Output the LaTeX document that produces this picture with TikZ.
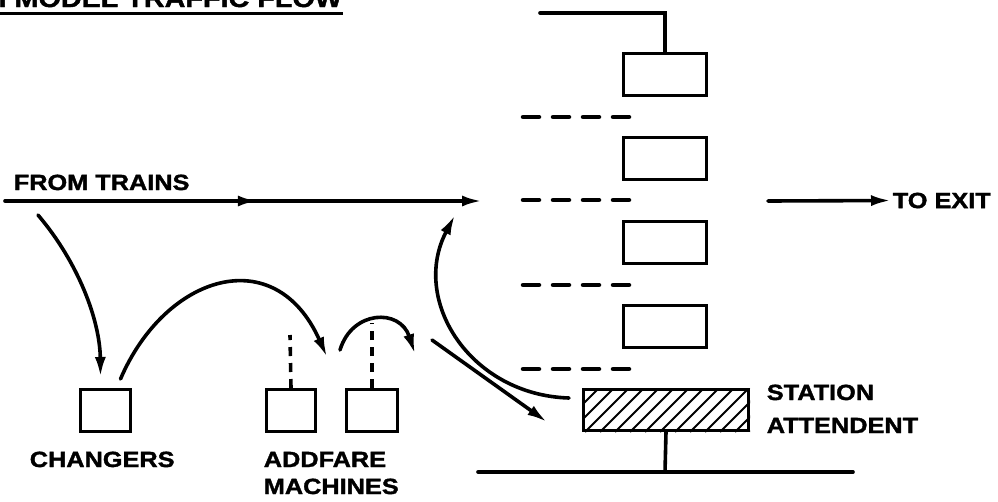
\documentclass[tikz,border=0pt]{standalone}
\usepackage{fontspec}
\newfontfamily\lblfont{Liberation Sans}[FakeStretch=1.15,BoldFeatures={FakeBold=1.6}]
\usetikzlibrary{arrows.meta,decorations.markings,calc}
\begin{document}
\begin{tikzpicture}[x=1pt,y=-1pt,line width=3.6pt,
  tip/.tip={Latex[length=20pt,width=11pt]},
  booth/.style={draw,line width=3pt,minimum width=83pt,minimum height=42pt,inner sep=0pt},
  machine/.style={draw,line width=3pt,minimum height=42pt,inner sep=0pt},
  dashrow/.style={line width=4.5pt,dash pattern=on 16pt off 14pt,line cap=round},
  dashv/.style={line width=3.6pt,dash pattern=on 9pt off 7pt},
  arr/.style={-tip,line width=3.6pt},
  lbl/.style={font=\lblfont\bfseries\fontsize{22}{26}\selectfont,inner sep=0pt,anchor=base west},
  ttl/.style={font=\lblfont\bfseries\fontsize{25}{28}\selectfont,inner sep=0pt,anchor=base west}]
\useasboundingbox (0,0) rectangle (998,501);

% title (cropped at top, as in the reference)
\node[ttl] (title) at (-16,7) {H MODEL TRAFFIC FLOW};
\draw (0,13.5) -- (343,13.5);

% booths
\node[booth] (b1) at (665,74.5) {};
\node[booth] (b2) at (665,158) {};
\node[booth] (b3) at (665,242) {};
\node[booth] (b4) at (665,326.5) {};
\coordinate (topl) at (540,13);
\draw[line cap=round] (topl) -| (b1.north);

% dashed barriers
\foreach \y in {117,200,285,369}
  \draw[dashrow] (523,\y) -- (630,\y);

% attendant booth (hatched)
\node[draw,line width=3pt,minimum width=165pt,minimum height=41pt,inner sep=0pt] (att) at (666,410) {};
\begin{scope}
  \clip (att.south west) rectangle (att.north east);
  \foreach \x in {540,555,...,760}
    \draw[line width=2pt] (\x,432) -- ++(46,-46);
\end{scope}
\node[draw,line width=3pt,minimum width=165pt,minimum height=41pt,inner sep=0pt] at (666,410) {};
\coordinate (floor) at (665,472);
\draw (att.south) -- (floor);
\coordinate (fl) at (478,472);
\coordinate (fr) at (853,472);
\draw[line cap=round] (fl) -- (fr);
\node[lbl] (st) at (765,400) {STATION};
\node[lbl] (ad) at (765,433) {ATTENDENT};

% main flow
\coordinate (ft) at (5,201);
\coordinate (fe) at (482,201);
\draw[arr,line cap=round,decoration={markings,mark=at position 0.53 with {\arrow{tip}}},postaction={decorate}] (ft) -- (fe);
\node[lbl] (from) at (12,190) {FROM TRAINS};
\node[lbl,anchor=west] (exit) at (891,200.5) {TO EXIT};
\coordinate (xs) at (768,201);
\draw[arr,line cap=round] (xs) -- (exit.west);

% changers and addfare machines
\node[machine,minimum width=50pt] (chg) at (105.5,410.5) {};
\node[machine,minimum width=49pt] (adA) at (291,410.5) {};
\node[machine,minimum width=51pt] (adB) at (372,410.5) {};
\node[lbl] (chgl) at (28,467) {CHANGERS};
\node[lbl] (adl1) at (262,467) {ADDFARE};
\node[lbl] (adl2) at (262,494) {MACHINES};
\coordinate (dA) at (290,335);
\coordinate (dB) at (372,323);
\draw[dashv] (adA.north) -- (dA);
\draw[dashv] (adB.north) -- (dB);

% flow curves
\coordinate (c1s) at (38,215);
\draw[arr,line cap=round] (c1s) .. controls (78,262) and (100,320) .. ($(chg.north)+(-5,-11)$);
\draw[arr,line cap=round] ($(chg.north)+(15,-9)$) .. controls (165,275) and (275,240) .. (327,357);
\coordinate (c3s) at (340,350);
\draw[arr,line cap=round] (c3s) .. controls (352,310) and (400,308) .. (415,354);
\coordinate (c4s) at (432,340);
\draw[arr,line cap=round] (c4s) -- ($(att.west)+(-35,12)$);
\draw[arr,line cap=round] ($(att.west)+(-13,-12)$) .. controls (470,395) and (410,300) .. (455,215);
\end{tikzpicture}
\end{document}
